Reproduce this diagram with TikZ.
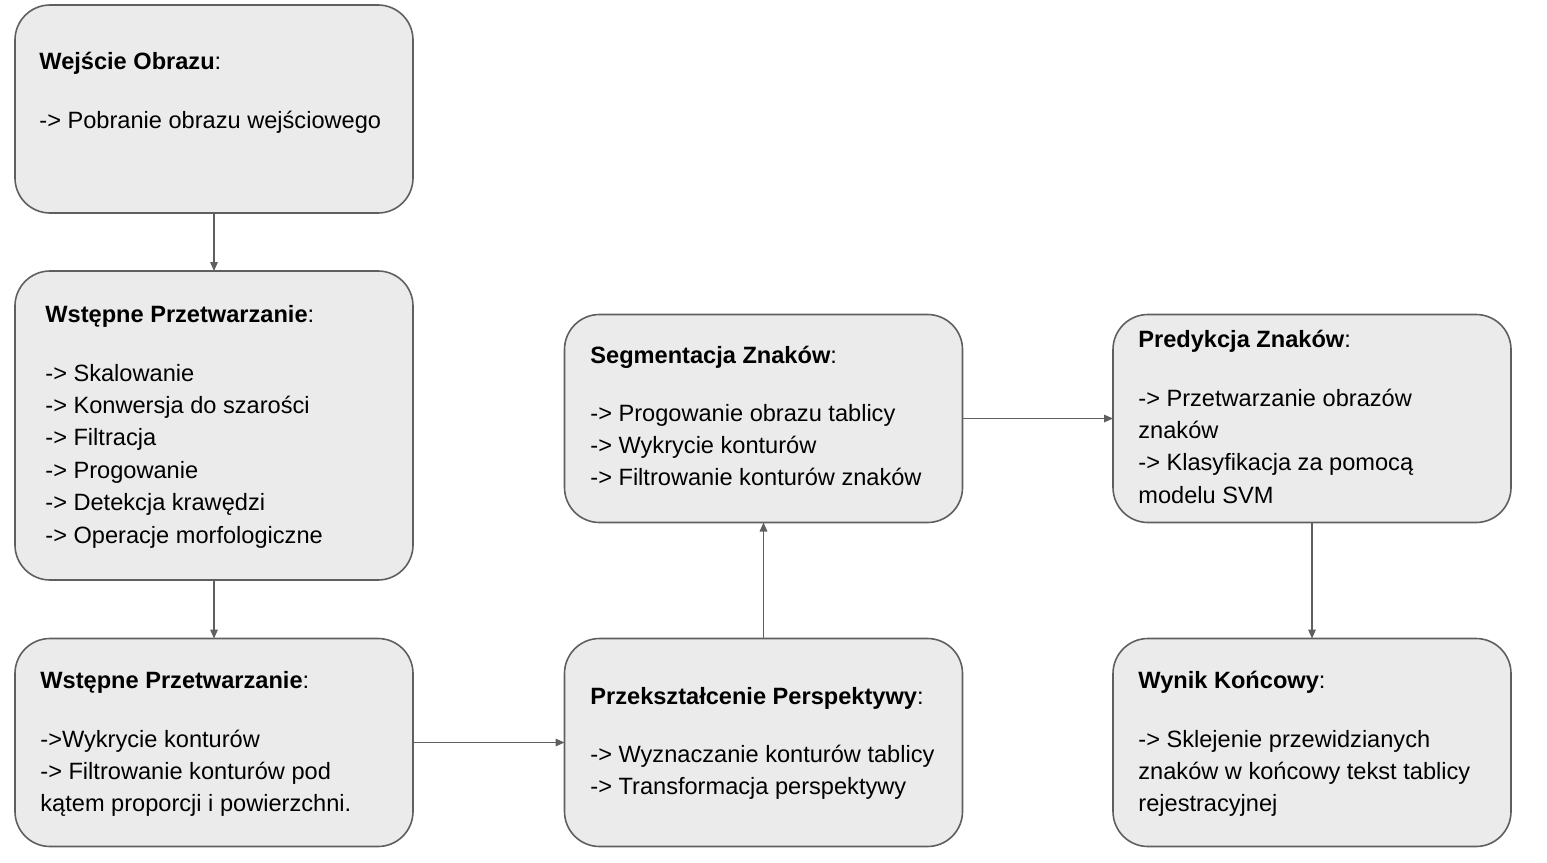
\documentclass[tikz,border=0pt]{standalone}
\usepackage{fontspec}
\setmainfont{Liberation Sans}
\usetikzlibrary{arrows.meta}
\definecolor{boxfill}{HTML}{EBEBEB}
\definecolor{boxline}{HTML}{5F5F5F}
\newcommand{\fs}{\fontsize{11.8pt}{16.2pt}\selectfont}
\newcommand{\blines}[1]{\begin{tabular}[t]{@{}l@{}}#1\end{tabular}}
\tikzset{
  stage/.style={draw=boxline, fill=boxfill, line width=0.8pt, rounded corners=17.5pt,
    minimum width=199pt, minimum height=104pt, inner sep=0pt, outer sep=0pt},
  bigstage/.style={stage, minimum height=154.5pt},
  ttl/.style={anchor=base west, inner sep=0pt, font=\fs},
  body/.style={anchor=base west, inner sep=0pt, font=\fs},
  arr/.style={draw=boxline, line width=0.6pt, -{Triangle[length=4.5pt,width=3.8pt]}}
}
\begin{document}
\begin{tikzpicture}[x=0.5pt, y=-0.5pt]
\useasboundingbox (0,0) rectangle (1547,862);
% boxes
\node[stage] (b1) at (214,109) {};
\node[bigstage] (b2) at (214,425.5) {};
\node[stage] (b3) at (214,742.5) {};
\node[stage] (b4) at (763.5,742.5) {};
\node[stage] (b5) at (763.5,418.5) {};
\node[stage] (b6) at (1312,418.5) {};
\node[stage] (b7) at (1312,742.5) {};
% texts
\node[ttl] (t1) at (39,69) {\textbf{Wejście Obrazu}:};
\node[body] (l1) at (39,128) {\blines{-> Pobranie obrazu wejściowego}};
\node[ttl] (t2) at (45,322) {\textbf{Wstępne Przetwarzanie}:};
\node[body] (l2) at (45,381) {\blines{-> Skalowanie\\-> Konwersja do szarości\\-> Filtracja\\-> Progowanie\\-> Detekcja krawędzi\\-> Operacje morfologiczne}};
\node[ttl] (t3) at (40,688) {\textbf{Wstępne Przetwarzanie}:};
\node[body] (l3) at (40,747) {\blines{->Wykrycie konturów\\-> Filtrowanie konturów pod\\kątem proporcji i powierzchni.}};
\node[ttl] (t4) at (590,704) {\textbf{Przekształcenie Perspektywy}:};
\node[body] (l4) at (590,762) {\blines{-> Wyznaczanie konturów tablicy\\-> Transformacja perspektywy}};
\node[ttl] (t5) at (590,363) {\textbf{Segmentacja Znaków}:};
\node[body] (l5) at (590,421) {\blines{-> Progowanie obrazu tablicy\\-> Wykrycie konturów\\-> Filtrowanie konturów znaków}};
\node[ttl] (t6) at (1138,347) {\textbf{Predykcja Znaków}:};
\node[body] (l6) at (1138,406) {\blines{-> Przetwarzanie obrazów\\znaków\\-> Klasyfikacja za pomocą\\modelu SVM}};
\node[ttl] (t7) at (1138,688) {\textbf{Wynik Końcowy}:};
\node[body] (l7) at (1138,747) {\blines{-> Sklejenie przewidzianych\\znaków w końcowy tekst tablicy\\rejestracyjnej}};
% connectors
\draw[arr] (b1.south) -- (b2.north);
\draw[arr] (b2.south) -- (b3.north);
\draw[arr] (b3.east) -- (b4.west);
\draw[arr] (b4.north) -- (b5.south);
\draw[arr] (b5.east) -- (b6.west);
\draw[arr] (b6.south) -- (b7.north);
\end{tikzpicture}
\end{document}
